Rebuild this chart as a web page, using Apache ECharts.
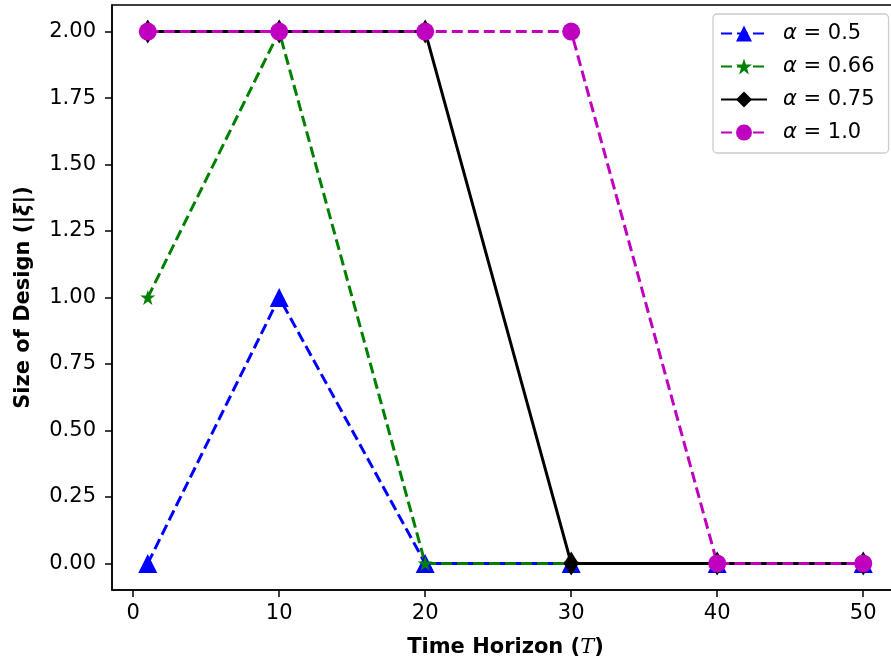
<!DOCTYPE html>
<html>
<head>
    <meta charset="utf-8">
    <title>Size of Design</title>
    <script src="https://cdn.jsdelivr.net/npm/echarts@6/dist/echarts.min.js"></script>
    <style>
        * { margin: 0; padding: 0; }
        html, body { background: #fff; overflow: hidden; }
    </style>
</head>
<body>
    <!-- a bit wider than the window: the right spine falls just outside, as in the figure -->
    <div id="main" style="width:902px;height:663px;"></div>
    <script type="text/javascript">
        // data
        var horizons = [1, 10, 20, 30, 40, 50];
        var alphaNames = ['0.5', '0.66', '0.75', '1.0'];
        var size05 = [0, 1, 0, 0, 0, 0];
        var size066 = [1, 2, 0, 0, 0, 0];
        var size075 = [2, 2, 2, 0, 0, 0];
        var size10 = [2, 2, 2, 2, 0, 0];
        var xTicks = [0, 10, 20, 30, 40, 50];
        var yTicks = [0, 0.25, 0.5, 0.75, 1.0, 1.25, 1.5, 1.75, 2.0];

        var FONT = 'DejaVu Sans';
        var FS = 21;
        var starPath = 'path://M50,0 L61.8,35.4 L100,35.4 L69.1,57.3 L80.9,95.1 L50,72.4 L19.1,95.1 L30.9,57.3 L0,35.4 L38.2,35.4 Z';

        function pairs(ys) {
            return horizons.map(function (x, i) { return [x, ys[i]]; });
        }

        function mkSeries(name, ys, color, symbol, size, dashed) {
            return {
                name: name,
                type: 'line',
                data: pairs(ys),
                symbol: symbol,
                symbolSize: size,
                showAllSymbol: true,
                animation: false,
                itemStyle: { color: color },
                lineStyle: { color: color, width: 3, type: dashed ? [11, 5] : 'solid' }
            };
        }

        var myChart = echarts.init(document.getElementById('main'), null, { renderer: 'canvas' });

        var option = {
            backgroundColor: '#fff',
            animation: false,
            textStyle: { fontFamily: FONT },
            grid: {
                left: 112, top: 5, width: 787, height: 587,
                show: true, borderColor: '#000', borderWidth: 1.5, backgroundColor: '#fff'
            },
            legend: {
                orient: 'vertical',
                left: 713, top: 14,
                padding: [9, 14, 10, 7],
                itemWidth: 46, itemHeight: 20,
                itemGap: 12,
                backgroundColor: 'rgba(255,255,255,0.8)',
                borderColor: '#cccccc', borderWidth: 1.3, borderRadius: 4,
                formatter: function (name) { return '{i|α} = ' + name; },
                textStyle: {
                    fontFamily: FONT, fontSize: FS, color: '#000', padding: [0, 0, 0, 11],
                    rich: { i: { fontFamily: FONT, fontStyle: 'italic', fontSize: FS, color: '#000' } }
                },
                data: alphaNames
            },
            xAxis: {
                type: 'value',
                min: -1.45, max: 52.45,
                name: '{b|Time Horizon (}{t|T}{b|)}',
                nameLocation: 'middle',
                nameGap: 47,
                nameTextStyle: {
                    rich: {
                        b: { fontFamily: FONT, fontWeight: 'bold', fontSize: FS, color: '#000' },
                        t: { fontFamily: 'DejaVu Serif', fontStyle: 'italic', fontSize: FS, color: '#000' }
                    }
                },
                axisLine: { show: true, onZero: false, lineStyle: { color: '#000', width: 1.5 } },
                axisTick: { show: true, inside: false, length: 7, customValues: xTicks, lineStyle: { color: '#000', width: 1.5 } },
                axisLabel: { customValues: xTicks, margin: 13, fontFamily: FONT, fontSize: FS, color: '#000' },
                splitLine: { show: false }
            },
            yAxis: {
                type: 'value',
                min: -0.1, max: 2.1,
                name: '{b|Size of Design (|}{t|ξ}{b||)}',
                nameLocation: 'middle',
                nameRotate: 90,
                nameGap: 78,
                nameTextStyle: {
                    rich: {
                        b: { fontFamily: FONT, fontWeight: 'bold', fontSize: FS, color: '#000' },
                        t: { fontFamily: FONT, fontStyle: 'italic', fontWeight: 'bold', fontSize: FS, color: '#000' }
                    }
                },
                axisLine: { show: true, onZero: false, lineStyle: { color: '#000', width: 1.5 } },
                axisTick: { show: true, inside: false, length: 7, customValues: yTicks, lineStyle: { color: '#000', width: 1.5 } },
                axisLabel: {
                    customValues: yTicks, margin: 16, fontFamily: FONT, fontSize: FS, color: '#000',
                    formatter: function (v) { return v.toFixed(2); }
                },
                splitLine: { show: false }
            },
            series: [
                mkSeries(alphaNames[0], size05, '#0000ff', 'triangle', 19, true),
                mkSeries(alphaNames[1], size066, '#008000', starPath, 15, true),
                mkSeries(alphaNames[2], size075, '#000000', 'diamond', [15, 24], false),
                mkSeries(alphaNames[3], size10, '#bf00bf', 'circle', 18, true)
            ]
        };

        myChart.setOption(option);
        window.onresize = myChart.resize;
    </script>
</body>
</html>
